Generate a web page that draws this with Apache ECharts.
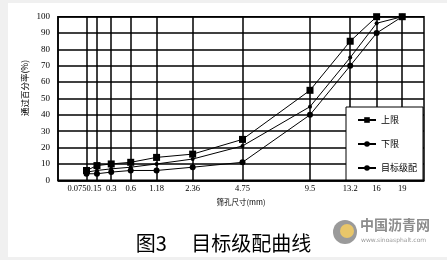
<!DOCTYPE html>
<html>
<head>
<meta charset="utf-8">
<script src="https://cdn.jsdelivr.net/npm/echarts@6/dist/echarts.min.js"></script>
<style>
html,body{margin:0;padding:0;background:#fff;}
#c{width:447px;height:260px;}
</style>
</head>
<body>
<div id="c"></div>
<script>
// sieve sizes (mm) and tick labels
const sieveSizes = [0.075, 0.15, 0.3, 0.6, 1.18, 2.36, 4.75, 9.5, 13.2, 16, 19];
const sieveLabels = ['0.075', '0.15', '0.3', '0.6', '1.18', '2.36', '4.75', '9.5', '13.2', '16', '19'];
// passing percentage (%)
const upperLimit = [6, 9, 10, 11, 14, 16, 25, 55, 85, 100, 100];
const lowerLimit = [4, 4, 5, 6, 6, 8, 11, 40, 70, 90, 100];
const targetGrading = [5, 6, 7, 8, 10, 13, 21, 45, 75, 96, 100];
const seriesNames = ['上限', '下限', '目标级配'];
const yTicks = [0, 10, 20, 30, 40, 50, 60, 70, 80, 90, 100];

const POW = 0.45;
const xs = sieveSizes.map(d => Math.pow(d, POW));
const toPairs = arr => arr.map((v, i) => [xs[i], v]);
const labelFor = v => {
  for (let i = 0; i < xs.length; i++) {
    if (Math.abs(xs[i] - v) < 1e-6) {
      if (i === 0) return '{a|' + sieveLabels[i] + '}';
      if (i === 1) return '{b|' + sieveLabels[i] + '}';
      return sieveLabels[i];
    }
  }
  return '';
};

const chart = echarts.init(document.getElementById('c'), null, {renderer: 'canvas'});
const serif = 'Liberation Serif';
const cjk = 'Noto Sans CJK SC';

chart.setOption({
  animation: false,
  backgroundColor: '#fff',
  title: {
    text: '图3\u3000 目标级配曲线',
    left: 'center',
    top: 228,
    textStyle: {fontFamily: cjk, fontSize: 20, fontWeight: 'normal', color: '#000'}
  },
  grid: {
    left: 58, right: 23, top: 16.7, bottom: 79.7,
    show: true, borderColor: '#000', borderWidth: 1.5, backgroundColor: 'transparent'
  },
  legend: {
    orient: 'vertical',
    left: 346, top: 107,
    padding: [8.5, 6, 7.5, 11],
    itemGap: 15,
    itemWidth: 18,
    itemHeight: 7,
    backgroundColor: '#fff',
    borderColor: '#000',
    borderWidth: 1,
    textStyle: {fontFamily: cjk, fontSize: 9, lineHeight: 9, color: '#000'},
    data: seriesNames
  },
  xAxis: {
    type: 'value',
    min: 0, max: 4,
    name: '筛孔尺寸(mm)',
    nameLocation: 'middle',
    nameGap: 18,
    nameTextStyle: {fontFamily: cjk, fontSize: 7.5, color: '#000'},
    axisLine: {show: true, lineStyle: {color: '#000', width: 1.5}},
    axisTick: {show: false, customValues: xs},
    axisLabel: {customValues: [0].concat(xs), formatter: labelFor, margin: 4, hideOverlap: false,
      interval: 0,
      fontFamily: serif, fontSize: 8.5, color: '#000',
      rich: {
        a: {fontFamily: serif, fontSize: 8.5, color: '#000', padding: [0, 19, 0, 0]},
        b: {fontFamily: serif, fontSize: 8.5, color: '#000', padding: [0, 6, 0, 0]}
      }},
    splitLine: {show: true, lineStyle: {color: '#000', width: 1.5}}
  },
  yAxis: {
    type: 'value',
    min: 0, max: 100, interval: 10,
    axisLine: {show: true, lineStyle: {color: '#000', width: 1.5}},
    axisTick: {show: false},
    axisLabel: {margin: 8, fontFamily: serif, fontSize: 9, color: '#000',
      formatter: v => (yTicks.indexOf(v) >= 0 ? String(v) : '')},
    splitLine: {show: true, lineStyle: {color: '#000', width: 1.5}}
  },
  series: [
    {name: seriesNames[0], type: 'line', data: toPairs(upperLimit), symbol: 'rect', symbolSize: 7,
      lineStyle: {color: '#000', width: 1}, itemStyle: {color: '#000'}},
    {name: seriesNames[1], type: 'line', data: toPairs(lowerLimit), symbol: 'circle', symbolSize: 6,
      lineStyle: {color: '#000', width: 1}, itemStyle: {color: '#000'}},
    {name: seriesNames[2], type: 'line', data: toPairs(targetGrading), symbol: 'circle', symbolSize: 4,
      lineStyle: {color: '#000', width: 1}, itemStyle: {color: '#000'}}
  ],
  graphic: [
    {type: 'rect', shape: {x: 0, y: 0, width: 8, height: 260}, style: {fill: '#f0f0f0'}, silent: true},
    {type: 'rect', shape: {x: 0, y: 0, width: 447, height: 3}, style: {fill: '#f0f0f0'}, silent: true},
    {type: 'rect', shape: {x: 0, y: 257, width: 447, height: 3}, style: {fill: '#f0f0f0'}, silent: true},
    {type: 'text', x: 25, y: 88, rotation: Math.PI / 2,
      style: {text: '通过百分率(%)', fontFamily: cjk, fontSize: 8.5, fill: '#000', align: 'center', verticalAlign: 'middle'}, silent: true},
    {type: 'circle', shape: {cx: 345, cy: 232, r: 12}, style: {fill: '#9a9a9a'}, silent: true},
    {type: 'circle', shape: {cx: 347, cy: 231, r: 7}, style: {fill: '#e8c66a'}, silent: true},
    {type: 'text', left: 360, top: 218, style: {text: '中国沥青网', fontFamily: cjk, fontSize: 14, fontWeight: 'bold', fill: '#8c8c8c'}, silent: true},
    {type: 'text', left: 361, top: 237, style: {text: 'www.sinoasphalt.com', fontFamily: 'DejaVu Sans', fontSize: 6, fill: '#9a9a9a'}, silent: true}
  ]
});
</script>
</body>
</html>
